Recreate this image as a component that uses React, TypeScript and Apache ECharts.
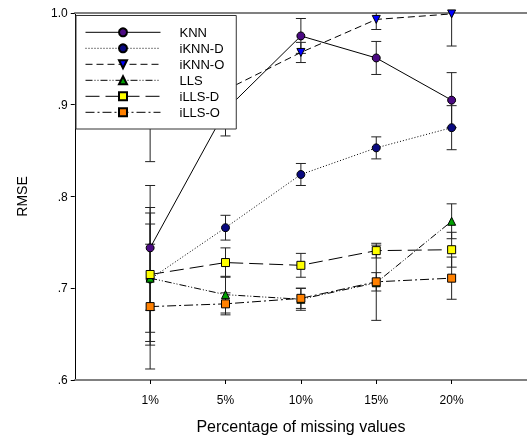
import React, { useEffect, useRef } from "react";
import * as echarts from "echarts";

const categories = ["1%", "5%", "10%", "15%", "20%"];
const yTicks = [0.6, 0.7, 0.8, 0.9, 1.0];

const knn = [0.744, 0.894, 0.975, 0.951, 0.905];
const knnErr = [0.068, 0.028, 0.019, 0.018, 0.03];
const iknnD = [0.71, 0.766, 0.824, 0.853, 0.875];
const iknnDErr = [0.072, 0.0135, 0.012, 0.012, 0.024];
const iknnO = [0.9, 0.916, 0.957, 0.993, 0.999];
const iknnOErr = [0.062, 0.03, 0.011, 0.011, 0.035];
const lls = [0.711, 0.693, 0.688, 0.706, 0.773];
const llsErr = [0.059, 0.02, 0.012, 0.041, 0.019];
const illsD = [0.715, 0.728, 0.725, 0.741, 0.742];
const illsDErr = [0.073, 0.016, 0.013, 0.008, 0.019];
const illsO = [0.68, 0.683, 0.689, 0.707, 0.711];
const illsOErr = [0.068, 0.012, 0.011, 0.01, 0.023];

const FONT = "'Liberation Sans', Arial, Helvetica, sans-serif";
const DOWN_TRI = "path://M0,0 L10,0 L5,9 Z";

const seriesDefs = [
  { name: "KNN", values: knn, errs: knnErr, symbol: "circle", size: 8, color: "#4B0A82", dash: "solid" as any },
  { name: "iKNN-D", values: iknnD, errs: iknnDErr, symbol: "circle", size: 8, color: "#0A0A80", dash: [1, 2] },
  { name: "iKNN-O", values: iknnO, errs: iknnOErr, symbol: DOWN_TRI, size: 8, color: "#0000FF", dash: [7, 4] },
  { name: "LLS", values: lls, errs: llsErr, symbol: "triangle", size: 8, color: "#00A000", dash: [7, 2, 1, 2, 1, 2] },
  { name: "iLLS-D", values: illsD, errs: illsDErr, symbol: "rect", size: 8, color: "#FFFF00", dash: [14, 6] },
  { name: "iLLS-O", values: illsO, errs: illsOErr, symbol: "rect", size: 8, color: "#FF8000", dash: [9, 3, 2, 3] },
];

export default function App() {
  const ref = useRef<HTMLDivElement>(null);
  useEffect(() => {
    if (!ref.current) return;
    const chart = echarts.init(ref.current, undefined, { renderer: "svg" });

    const errorRender = (params: any, api: any) => {
      const x = api.value(0);
      const y = api.value(1);
      const e = api.value(2);
      const top = api.coord([x, y + e]);
      const bot = api.coord([x, y - e]);
      const hw = 5;
      const style = { stroke: "#222", lineWidth: 1 };
      return {
        type: "group",
        children: [
          { type: "line", shape: { x1: top[0], y1: top[1], x2: bot[0], y2: bot[1] }, style },
          { type: "line", shape: { x1: top[0] - hw, y1: top[1], x2: top[0] + hw, y2: top[1] }, style },
          { type: "line", shape: { x1: bot[0] - hw, y1: bot[1], x2: bot[0] + hw, y2: bot[1] }, style },
        ],
      };
    };

    const series: any[] = [];
    seriesDefs.forEach((d) => {
      series.push({
        name: d.name + "-err",
        type: "custom",
        renderItem: errorRender,
        data: d.values.map((v, i) => [i + 1, v, d.errs[i]]),
        clip: true,
        silent: true,
        z: 1,
      });
    });
    seriesDefs.forEach((d) => {
      series.push({
        name: d.name,
        type: "line",
        data: d.values.map((v, i) => [i + 1, v]),
        symbol: d.symbol,
        symbolSize: d.size,
        showAllSymbol: true,
        lineStyle: { color: "#000", width: 1, type: d.dash },
        itemStyle: { color: d.color, borderColor: "#000", borderWidth: 1 },
        z: 3,
        silent: true,
      });
    });

    chart.setOption({
      animation: false,
      textStyle: { fontFamily: FONT, color: "#000" },
      grid: { left: 74.75, right: -5.25, top: 13, bottom: 56 },
      legend: {
        data: seriesDefs.map((d) => d.name),
        orient: "vertical",
        left: 76,
        top: 15.5,
        padding: [8.8, 12, 8.7, 9],
        itemGap: 0,
        itemWidth: 75,
        itemHeight: 10,
        backgroundColor: "#fff",
        borderColor: "#333",
        borderWidth: 1,
        selectedMode: false,
        lineStyle: { width: 1 },
        textStyle: { fontFamily: FONT, fontSize: 13, color: "#000", lineHeight: 16, padding: [0, 0, 0, 14] },
      },
      xAxis: [
        {
          type: "value",
          min: 0,
          max: 6,
          axisLine: { show: true, onZero: false, lineStyle: { color: "#808080", width: 2 } },
          axisTick: { show: true, customValues: [1, 2, 3, 4, 5], length: 4, lineStyle: { color: "#000" } },
          axisLabel: {
            customValues: [1, 2, 3, 4, 5],
            formatter: (v: number) => categories[Math.round(v) - 1] ?? "",
            margin: 14,
            fontSize: 12,
            color: "#000",
            fontFamily: FONT,
          },
          splitLine: { show: false },
          name: "Percentage of missing values",
          nameLocation: "middle",
          nameGap: 38,
          nameTextStyle: { fontSize: 16, color: "#000", fontFamily: FONT },
        },
        {
          type: "value",
          min: 0,
          max: 6,
          position: "top",
          axisLine: { show: true, onZero: false, lineStyle: { color: "#808080", width: 2 } },
          axisTick: { show: false },
          axisLabel: { show: false },
          splitLine: { show: false },
        },
      ],
      yAxis: {
        type: "value",
        min: yTicks[0],
        max: yTicks[yTicks.length - 1],
        interval: 0.1,
        axisLine: { show: true, onZero: false, lineStyle: { color: "#000", width: 1 } },
        axisTick: { show: true, length: 4, lineStyle: { color: "#000" } },
        axisLabel: {
          formatter: (v: number) => (v >= 0.999 ? "1.0" : "." + Math.round(v * 10)),
          margin: 7,
          fontSize: 12,
          color: "#000",
          fontFamily: FONT,
        },
        splitLine: { show: false },
        name: "RMSE",
        nameLocation: "middle",
        nameGap: 46,
        nameTextStyle: { fontSize: 14, color: "#000", fontFamily: FONT },
      },
      series,
    });
    return () => chart.dispose();
  }, []);
  return <div ref={ref} style={{ position: "fixed", left: 0, top: 0, width: 527, height: 439 }} />;
}
